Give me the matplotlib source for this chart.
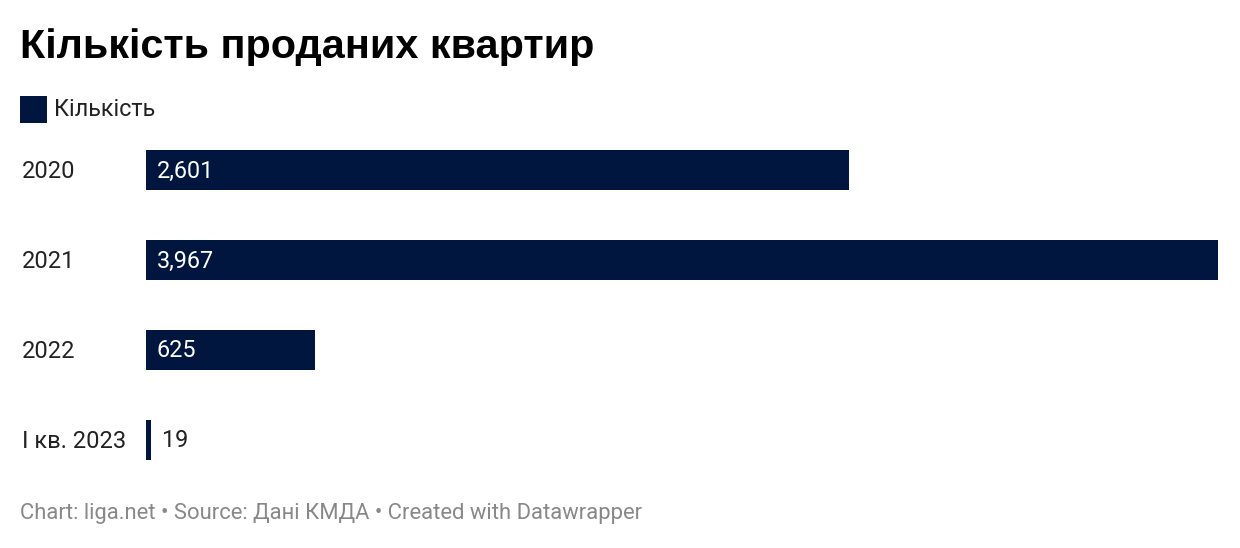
import matplotlib
matplotlib.use("Agg")
import matplotlib.pyplot as plt
import matplotlib.transforms as mtransforms
from matplotlib.patches import Rectangle

# data
years = ["2020", "2021", "2022", "І кв. 2023"]
counts = [2601, 3967, 625, 19]
labels = ["2,601", "3,967", "625", "19"]

bar_color = "#01163f"
W, H = 1240, 548

fig = plt.figure(figsize=(W / 100, H / 100), dpi=100)
fig.patch.set_facecolor("white")


def fx(px):
    return px / W


def fy(py):
    return 1 - py / H


# title
fig.text(fx(20), fy(47), "Кількість проданих квартир", family="Liberation Sans",
         fontsize=29.8, fontweight="bold", color="#000000", va="center", ha="left")

# legend
fig.patches.append(Rectangle((fx(20), fy(123)), 27 / W, 27 / H, transform=fig.transFigure,
                             facecolor=bar_color, edgecolor="none"))
fig.text(fx(54), fy(109), "Кількість", family="Roboto", fontsize=16.8, color="#222222",
         va="center", ha="left")

# bars axis: x from 146 to 1218 px, bars at 150..459 px
ax = fig.add_axes([fx(146), fy(460), (1218 - 146) / W, 310 / H])
ypos = list(range(len(years)))
ax.barh(ypos, counts, height=40 / 90, color=bar_color)
ax.set_xlim(0, max(counts))
ax.set_ylim(len(years) - 1 + 20 / 90, -20 / 90)
ax.axis("off")

shift = mtransforms.ScaledTranslation(11 / 100, -1 / 100, fig.dpi_scale_trans)
for i, (v, lab) in enumerate(zip(counts, labels)):
    if v > 300:
        ax.text(0, i, lab, transform=ax.get_yaxis_transform() + shift, color="white",
                family="Roboto", fontsize=16.8, va="center", ha="left")
    else:
        ax.text(v, i, lab, transform=ax.transData + shift, color="#222222",
                family="Roboto", fontsize=16.8, va="center", ha="left")

# category labels
for i, yr in enumerate(years):
    fig.text(fx(22), fy(171 + 90 * i), yr, family="Roboto", fontsize=17,
             color="#222222", va="center", ha="left")

# footer
fig.text(fx(20), fy(513), "Chart: liga.net • Source: Дані КМДА • Created with Datawrapper",
         family="Roboto", fontsize=15.8, color="#888888", va="center", ha="left")

fig.savefig("out.png", dpi=100, facecolor="white")
